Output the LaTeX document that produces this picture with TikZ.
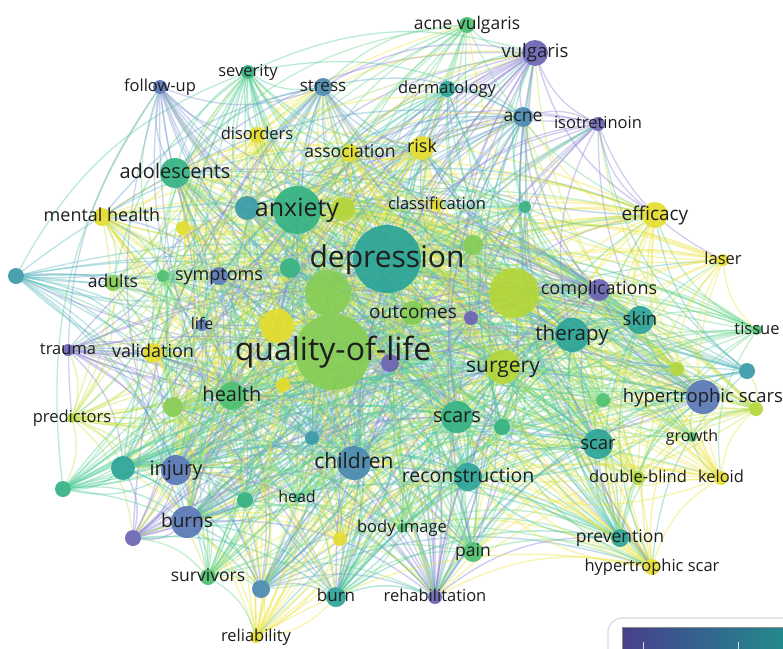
\documentclass[tikz,border=0pt]{standalone}
\usepackage{fontspec}
\setmainfont{Open Sans}
\pgfdeclarelayer{edges}
\pgfsetlayers{edges,main}

% overlay palette (viridis-like) for the circles
\definecolor{cP}{HTML}{6B63B5}
\definecolor{cPB}{HTML}{5A78B8}
\definecolor{cB}{HTML}{4A8AB0}
\definecolor{cBT}{HTML}{3A9AA8}
\definecolor{cT}{HTML}{2BA497}
\definecolor{cTG}{HTML}{35B283}
\definecolor{cG}{HTML}{4DC070}
\definecolor{cLG}{HTML}{86CD55}
\definecolor{cL}{HTML}{B4D638}
\definecolor{cY}{HTML}{E4DD2C}
% lighter versions for the links
\definecolor{ecP}{HTML}{8C84D6}
\definecolor{ecPB}{HTML}{7C98D4}
\definecolor{ecB}{HTML}{68A6CC}
\definecolor{ecBT}{HTML}{55B8BE}
\definecolor{ecT}{HTML}{45C2A8}
\definecolor{ecTG}{HTML}{50CE98}
\definecolor{ecG}{HTML}{6AD68A}
\definecolor{ecLG}{HTML}{9EDC6C}
\definecolor{ecL}{HTML}{C8E248}
\definecolor{ecY}{HTML}{EEE43A}
\definecolor{ink}{HTML}{1E1E1E}
\definecolor{barA}{HTML}{483F8C}
\definecolor{barB}{HTML}{31688E}
\definecolor{barC}{HTML}{21918C}

% name / x / y / radius / colour / weight
\def\itemlist{%
dep/387/259/34/cT/7, qol/333/352/38/cLG/7, anx/297/210/24/cTG/5,
anxb/247/208/12/cBT/3, anxy/343/209/12/cL/3, big1/328/293/23/cLG/4,
bigR/514/293/25/cL/4, out/413/313/12/cLG/3, yel1/277/326/17/cY/3,
g1/290/268/10/cTG/3, g2/473/245/10/cLG/3, pu1/471/318/7/cP/2,
pu2/390/363/9/cP/3, y2/283/385/7/cY/2, ado/175/173/15/cTG/4,
men/102/217/9/cY/3, y3/183/228/7/cY/2, tb1/16/276/8/cBT/2,
adu/113/283/8/cLG/2, g3/163/276/6/cG/2, sym/219/276/9/cPB/3,
life/202/325/6/cPB/2, tra/68/350/6/cP/2, val/153/353/10/cY/3,
hea/232/396/14/cG/4, l1/173/407/10/cLG/3, pre/72/418/5/cL/2,
tb2/312/438/7/cBT/2, t1/123/468/12/cT/3, inj/176/470/15/cPB/4,
g4/63/489/8/cTG/2, t2/245/500/8/cTG/2, head/297/498/4/cTG/2,
chi/354/463/17/cB/4, bur/187/522/16/cPB/4, pu3/133/538/8/cP/3,
y4/340/539/7/cY/2, bim/402/528/5/cG/2, sur/208/577/8/cG/2,
b1/261/589/9/cB/3, burn/336/597/10/cT/3, reh/435/597/7/cP/3,
rel/256/637/6/cY/2, pain/473/552/10/cG/3, prev/620/538/9/cT/3,
hsc/652/567/8/cY/3, dbl/638/478/7/cL/2, kel/721/478/7/cY/2,
scar/598/444/15/cT/3, gro/692/437/5/cG/2, hss/703/397/17/cPB/4,
l2/677/369/7/cL/2, b2/747/371/8/cBT/2, l3/756/409/7/cL/2,
g5/603/400/7/cG/2, t3/502/427/8/cTG/2, scs/457/417/16/cTG/4,
rec/468/477/14/cT/3, sug/503/367/17/cL/4, the/572/335/17/cT/4,
skin/640/320/14/cT/3, tis/757/330/5/cG/2, com/599/290/11/cP/3,
las/723/260/6/cY/2, eff/655/215/13/cY/3, t4/525/207/6/cTG/2,
cla/437/205/6/cY/2, risk/422/148/12/cY/3, ass/350/153/9/cY/3,
dis/257/135/8/cY/2, str/323/87/9/cB/3, sev/248/72/7/cTG/2,
fol/160/87/7/cPB/2, der/447/89/8/cT/2, acne/523/117/10/cB/3,
iso/598/124/7/cP/2, vul/535/53/13/cP/3, acv/467/25/8/cG/2}

% name / text / font size
\def\labellist{%
dep/depression/30, qol/quality-of-life/32, anx/anxiety/25,
ado/adolescents/20, men/mental health/18, adu/adults/17.5,
sym/symptoms/18, life/life/16, tra/trauma/16.5, val/validation/18,
hea/health/20, pre/predictors/16.5, inj/injury/20, chi/children/21,
head/head/16, bur/burns/19, bim/body image/16.5, sur/survivors/17.5,
burn/burn/17, reh/rehabilitation/16.5, rel/reliability/16.5,
pain/pain/17.5, prev/prevention/17.5, hsc/hypertrophic scar/16.5,
dbl/double-blind/16.5, kel/keloid/16.5, scar/scar/18.5, gro/growth/16,
hss/hypertrophic scars/18.5, scs/scars/20, rec/reconstruction/19.5,
sug/surgery/21, the/therapy/20.5, skin/skin/18.5, tis/tissue/16.5,
com/complications/18, las/laser/16.5, eff/efficacy/19,
cla/classification/16.5, out/outcomes/19, risk/risk/18,
ass/association/17.5, dis/disorders/16.5, str/stress/17,
sev/severity/16.5, fol/follow-up/16.5, der/dermatology/16.5,
acne/acne/17.5, iso/isotretinoin/16.5, vul/vulgaris/18.5,
acv/acne vulgaris/17.5}

\begin{document}
\begin{tikzpicture}[x=1pt,y=-1pt,
  item/.style={circle, inner sep=0pt, outer sep=0pt, draw=none, fill opacity=0.92},
  lbl/.style={anchor=base, inner sep=0pt, text=ink},
  link/.style={draw=e#1, draw opacity=0.40, bend left=20}]

\useasboundingbox (0,0) rectangle (783,648);

% keyword circles
\foreach \n/\x/\y/\r/\c/\w in \itemlist {
  \node[item, fill=\c, minimum size={2*\r*1pt}] (\n) at (\x,\y) {};
}

% co-occurrence links, drawn underneath the circles; a link takes the
% colour of its lighter end and thickens with the weaker end's weight
\pgfmathsetseed{42}
\begin{pgfonlayer}{edges}
\fill[white] (0,0) rectangle (783,648);
\foreach \i/\xi/\yi/\ri/\ci/\wi [count=\ki] in \itemlist {
  \foreach \j/\xj/\yj/\rj/\cj/\wj [count=\kj] in \itemlist {
    \ifnum\kj>\ki\relax
      \pgfmathsetmacro\dd{100*veclen((\xj-\xi)/100,(\yj-\yi)/100)}
      \pgfmathtruncatemacro\hit{rnd < \wi*\wj/12*300/(\dd+150) ? 1 : 0}
      \ifnum\hit=1
        \pgfmathtruncatemacro\pick{\wi < \wj ? 1 : (\wi > \wj ? 0 : (rnd < 0.5 ? 1 : 0))}
        \pgfmathsetmacro\lw{1.0 + 0.15*min(\wi,\wj)}
        \ifnum\pick=1
          \draw[link=\ci, line width=\lw pt] (\i) to (\j);
        \else
          \draw[link=\cj, line width=\lw pt] (\i) to (\j);
        \fi
      \fi
    \fi
  }
}
\end{pgfonlayer}

% keyword labels, baseline set so the x-height sits on the circle centre
\foreach \n/\t/\s in \labellist {
  \node[lbl, font={\fontsize{\s}{\s}\selectfont}, yshift={-0.27*\s*1pt}]
    (l-\n) at (\n) {\t};
}

% colour scale legend
\draw[draw=black!15, line width=1.2pt, fill=white, rounded corners=14pt]
  (608,618) rectangle (820,690);
\shade[left color=barA, right color=barC, middle color=barB]
  (622,627) rectangle (800,660);
\draw[black!45, line width=0.8pt] (622,660) -- (622,627) -- (800,627);
\draw[white!70!gray, line width=0.8pt] (643,642) -- (643,650);
\draw[white!70!gray, line width=0.8pt] (738,642) -- (738,650);
\end{tikzpicture}
\end{document}
